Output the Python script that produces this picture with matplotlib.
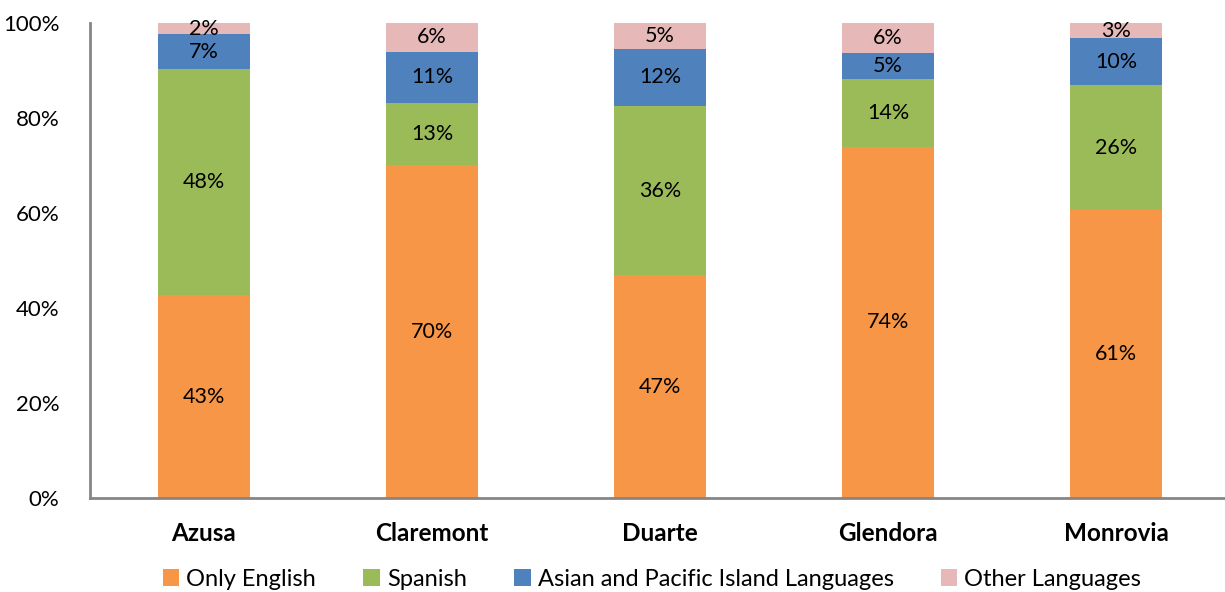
import matplotlib
matplotlib.use("Agg")
import matplotlib.pyplot as plt
import numpy as np

cities = ["Azusa", "Claremont", "Duarte", "Glendora", "Monrovia"]
series_names = ["Only English", "Spanish", "Asian and Pacific Island Languages", "Other Languages"]
only_english = [42.7, 70.1, 46.9, 73.9, 60.6]
spanish = [47.7, 13.1, 35.6, 14.3, 26.3]
asian_pacific = [7.2, 10.7, 12.1, 5.4, 9.9]
other_langs = [2.4, 6.1, 5.4, 6.4, 3.2]
colors = ["#F79646", "#9BBB59", "#4F81BD", "#E6B9B8"]

plt.rcParams["font.family"] = ["Lato", "DejaVu Sans"]

fig = plt.figure(figsize=(12.25, 5.92), dpi=100)
ax = fig.add_axes([90 / 1225, 1 - 498 / 592, 1140 / 1225, 475 / 592])

x = np.arange(len(cities))
bottom = np.zeros(len(cities))
for name, vals, col in zip(series_names, [only_english, spanish, asian_pacific, other_langs], colors):
    vals = np.array(vals)
    ax.bar(x, vals, width=0.4, bottom=bottom, color=col, label=name, zorder=2)
    for xi, b, v in zip(x, bottom, vals):
        ax.text(xi, b + v / 2, f"{v:.0f}%", ha="center", va="center", fontsize=15.5, color="black", zorder=3)
    bottom += vals

ax.set_xlim(-0.5, 4.5)
ax.set_ylim(0, 100)
ax.set_yticks([0, 20, 40, 60, 80, 100])
ax.set_yticklabels([f"{t}%" for t in [0, 20, 40, 60, 80, 100]], fontsize=16)
ax.set_xticks(x)
ax.set_xticklabels(cities, fontsize=17.5, fontweight="bold")
ax.tick_params(axis="both", length=0)
ax.tick_params(axis="y", pad=22)
ax.tick_params(axis="x", pad=17)
for s in ["top", "right"]:
    ax.spines[s].set_visible(False)
for s in ["left", "bottom"]:
    ax.spines[s].set_color("#868686")
    ax.spines[s].set_linewidth(2)

fig.legend(loc="center", bbox_to_anchor=(652 / 1225, 1 - 579 / 592), ncol=4, frameon=False,
           fontsize=17, handlelength=0.7, handleheight=0.7, handletextpad=0.3, columnspacing=2.0)

fig.savefig("out.png", dpi=100)
